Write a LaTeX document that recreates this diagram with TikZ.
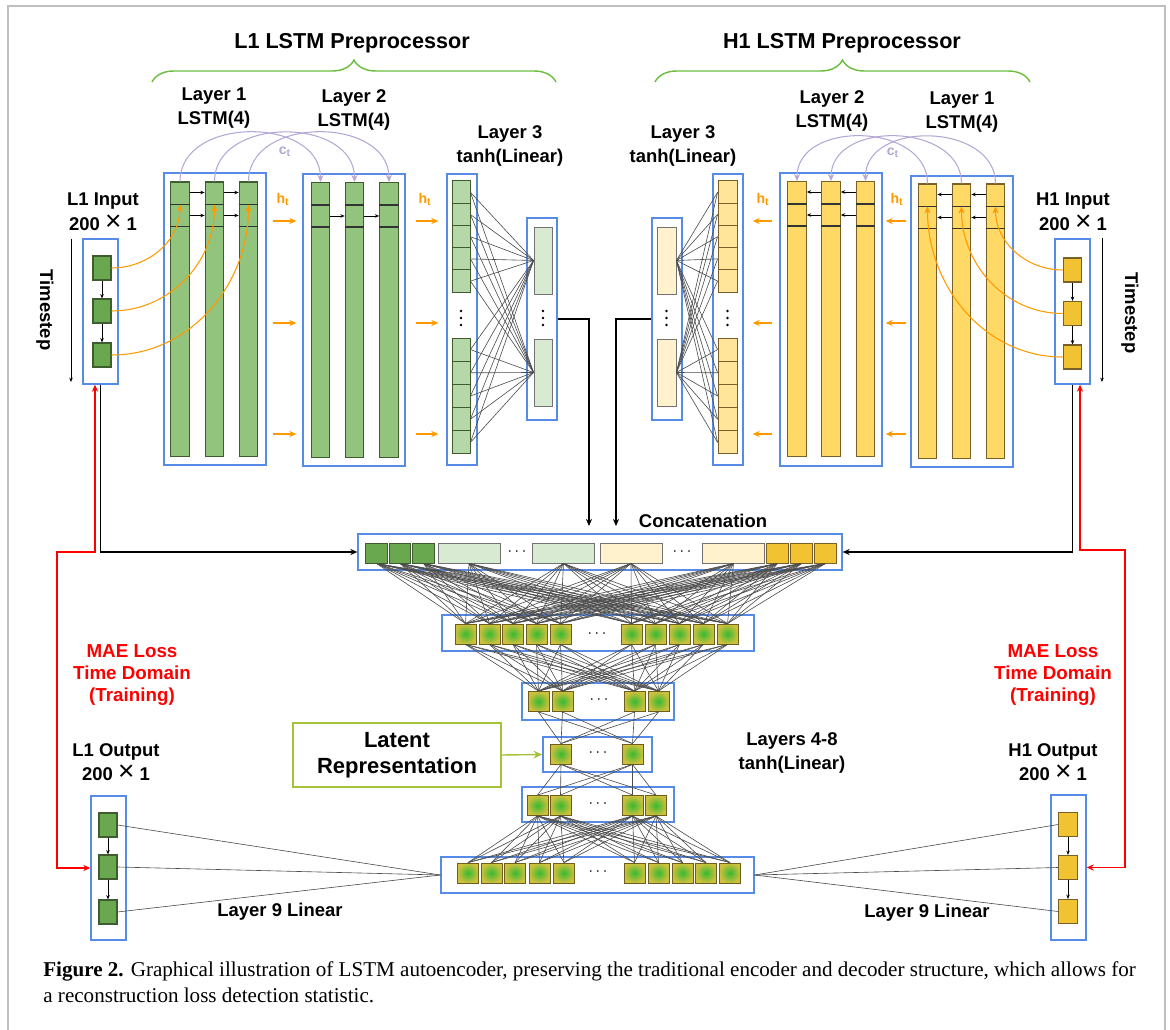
\documentclass[tikz,border=0pt]{standalone}
\usepackage{fontspec}
\setmainfont{Liberation Serif}
\setsansfont{Liberation Sans}
\usetikzlibrary{arrows.meta,decorations.pathreplacing}

\definecolor{boxblue}{RGB}{86,140,232}
\definecolor{gline}{RGB}{62,92,46}
\definecolor{gbar}{RGB}{147,196,125}
\definecolor{gdark}{RGB}{106,168,79}
\definecolor{gcell}{RGB}{182,215,168}
\definecolor{gpale}{RGB}{217,234,211}
\definecolor{yline}{RGB}{120,96,40}
\definecolor{ybar}{RGB}{255,217,102}
\definecolor{ydark}{RGB}{241,194,50}
\definecolor{ycell}{RGB}{255,229,153}
\definecolor{ypale}{RGB}{255,242,204}
\definecolor{htorange}{RGB}{255,153,0}
\definecolor{ctpurple}{RGB}{180,167,214}
\definecolor{bracegreen}{RGB}{106,190,60}
\definecolor{latentgreen}{RGB}{164,194,58}
\definecolor{nin}{RGB}{55,185,50}
\definecolor{nout}{RGB}{205,192,60}
\definecolor{nline}{RGB}{110,95,30}

\begin{document}
\begin{tikzpicture}[x=0.02cm, y=-0.02cm]
  \tikzstyle{bluebox}=[draw=boxblue, line width=0.8pt, inner sep=0pt]
  \tikzstyle{barG}=[draw=gline, fill=gbar, line width=0.6pt, minimum width=0.37cm, minimum height=5.5cm, inner sep=0pt]
  \tikzstyle{barY}=[draw=yline, fill=ybar, line width=0.6pt, minimum width=0.37cm, minimum height=5.5cm, inner sep=0pt]
  \tikzstyle{sqG}=[draw=gline, fill=gdark, line width=0.6pt, minimum width=0.36cm, minimum height=0.48cm, inner sep=0pt]
  \tikzstyle{sqY}=[draw=yline, fill=ydark, line width=0.6pt, minimum width=0.37cm, minimum height=0.48cm, inner sep=0pt]
  \tikzstyle{cellG}=[draw=gline, fill=gcell, line width=0.5pt, minimum width=0.36cm, minimum height=0.46cm, inner sep=0pt]
  \tikzstyle{cellY}=[draw=yline, fill=ycell, line width=0.5pt, minimum width=0.38cm, minimum height=0.46cm, inner sep=0pt]
  \tikzstyle{linG}=[draw=black!55, fill=gpale, line width=0.5pt, minimum width=0.36cm, minimum height=1.34cm, inner sep=0pt]
  \tikzstyle{linY}=[draw=black!55, fill=ypale, line width=0.5pt, minimum width=0.38cm, minimum height=1.34cm, inner sep=0pt]
  \tikzstyle{catsqG}=[draw=gline, fill=gdark, line width=0.5pt, minimum width=0.43cm, minimum height=0.40cm, inner sep=0pt]
  \tikzstyle{catsqY}=[draw=yline, fill=ydark, line width=0.5pt, minimum width=0.43cm, minimum height=0.40cm, inner sep=0pt]
  \tikzstyle{catwideG}=[draw=black!55, fill=gpale, line width=0.5pt, minimum width=1.24cm, minimum height=0.40cm, inner sep=0pt]
  \tikzstyle{catwideY}=[draw=black!55, fill=ypale, line width=0.5pt, minimum width=1.24cm, minimum height=0.40cm, inner sep=0pt]
  \tikzstyle{neuron}=[draw=nline, line width=0.5pt, shading=radial, inner color=nin, outer color=nout, minimum width=0.42cm, minimum height=0.40cm, inner sep=0pt]
  \tikzstyle{wire}=[draw=black!70, line width=0.35pt]
  \tikzstyle{ht}=[draw=htorange, line width=0.8pt, -{Stealth[length=4pt,width=3.5pt]}]
  \tikzstyle{feed}=[draw=htorange, line width=0.6pt, -{Stealth[length=4pt,width=3.5pt]}]
  \tikzstyle{ctarc}=[draw=ctpurple, line width=0.6pt, -{Stealth[length=4pt,width=3.5pt]}]
  \tikzstyle{smallarrow}=[draw=black, line width=0.45pt, -{Stealth[length=2.5pt,width=2pt]}]
  \tikzstyle{feedline}=[draw=black, line width=0.7pt, -{Stealth[length=4pt,width=3.5pt]}]
  \tikzstyle{loss}=[draw=red, line width=0.7pt, {Stealth[length=4pt,width=3.5pt]}-{Stealth[length=4pt,width=3.5pt]}]
  \tikzstyle{layerlab}=[font=\sffamily\bfseries\fontsize{10.5}{14}\selectfont, align=center, inner sep=0pt]
  \tikzstyle{titlelab}=[font=\sffamily\bfseries\fontsize{12.3}{15}\selectfont, inner sep=0pt]
  \tikzstyle{losslab}=[font=\sffamily\bfseries\fontsize{10.7}{12.6}\selectfont, align=center, text=red, inner sep=0pt]
  \tikzstyle{sublab}=[font=\sffamily\bfseries\fontsize{8}{9}\selectfont, inner sep=0pt]
  \tikzstyle{dotlab}=[inner sep=0pt, font=\fontsize{9}{9}\selectfont]
  \tikzstyle{brace}=[draw=bracegreen, line width=0.8pt, decorate, decoration={brace, amplitude=0.44cm}]
  \newcommand{\bigx}{{\mdseries\fontsize{16}{14}\selectfont ×}}

  \useasboundingbox (0,0) rectangle (1170,1030);
  \draw[black!25, line width=1.2pt] (8,6) rectangle (1165,1045);

  % titles
  \node[titlelab] (titleL) at (352,43) {L1 LSTM Preprocessor};
  \node[titlelab] (titleR) at (842,43) {H1 LSTM Preprocessor};
  \draw[brace] (152,82) -- (556,82);
  \draw[brace] (655,82) -- (1030,82);

  % layer names
  \node[layerlab] (nameLa) at (214,108) {Layer 1\\LSTM(4)};
  \node[layerlab] (nameLb) at (354,110) {Layer 2\\LSTM(4)};
  \node[layerlab] (nameLc) at (510,146) {Layer 3\\tanh(Linear)};
  \node[layerlab] (nameRc) at (683,146) {Layer 3\\tanh(Linear)};
  \node[layerlab] (nameRb) at (832,111) {Layer 2\\LSTM(4)};
  \node[layerlab] (nameRa) at (962,112) {Layer 1\\LSTM(4)};
  \node[layerlab] (nameInL) at (103,212) {L1 Input\\200 \bigx{} 1};
  \node[layerlab] (nameInR) at (1073,212) {H1 Input\\200 \bigx{} 1};
  \node[layerlab, rotate=-90] (timeL) at (45,310) {Timestep};
  \node[layerlab, rotate=-90] (timeR) at (1130,313) {Timestep};
  \coordinate (tsL1) at (71,239);
  \coordinate (tsL2) at (71,382);
  \coordinate (tsR1) at (1102,238);
  \coordinate (tsR2) at (1102,382);
  \draw[smallarrow] (tsL1) -- (tsL2);
  \draw[smallarrow] (tsR1) -- (tsR2);

  % input boxes
  \node[bluebox, minimum width=0.70cm, minimum height=2.90cm] (inL) at (100.5,311.5) {};
  \node[bluebox, minimum width=0.70cm, minimum height=2.90cm] (inR) at (1072.5,311.5) {};
  \foreach \y [count=\i] in {268,311,355}
    \node[sqG] (inL\i) at (102,\y) {};
  \foreach \y [count=\i] in {270,313.5,357}
    \node[sqY] (inR\i) at (1072.5,\y) {};
  \draw[smallarrow] (inL1) -- (inL2);
  \draw[smallarrow] (inL2) -- (inL3);
  \draw[smallarrow] (inR1) -- (inR2);
  \draw[smallarrow] (inR2) -- (inR3);

  % lstm layers
  \node[bluebox, minimum width=2.04cm, minimum height=5.84cm] (lstmLa) at (215,319) {};
  \node[bluebox, minimum width=2.04cm, minimum height=5.84cm] (lstmLb) at (354,320) {};
  \node[bluebox, minimum width=2.04cm, minimum height=5.86cm] (lstmRb) at (831,319.5) {};
  \node[bluebox, minimum width=2.04cm, minimum height=5.82cm] (lstmRa) at (962,321.5) {};
  \foreach \x [count=\i] in {180,214.5,248.5}
    \node[barG] (barLa\i) at (\x,319.5) {};
  \foreach \x [count=\i] in {320.5,354.5,389}
    \node[barG] (barLb\i) at (\x,320) {};
  \foreach \x [count=\i] in {797,831,865.5}
    \node[barY] (barRb\i) at (\x,319) {};
  \foreach \x [count=\i] in {927.5,961.5,995.5}
    \node[barY] (barRa\i) at (\x,321.5) {};
  \foreach \b in {barLa1,barLa2,barLa3,barLb1,barLb2,barLb3,barRb1,barRb2,barRb3,barRa1,barRa2,barRa3} {
    \draw[black!80, line width=0.6pt] ([yshift=-0.46cm]\b.north west) -- ([yshift=-0.46cm]\b.north east);
    \draw[black!80, line width=0.6pt] ([yshift=-0.9cm]\b.north west) -- ([yshift=-0.9cm]\b.north east);
  }
  \foreach \a/\b in {1/2,2/3} {
    \draw[smallarrow] ([yshift=-0.22cm]barLa\a.north east) -- ([yshift=-0.22cm]barLa\b.north west);
    \draw[smallarrow] ([yshift=-0.68cm]barLa\a.north east) -- ([yshift=-0.68cm]barLa\b.north west);
    \draw[smallarrow] ([yshift=-0.68cm]barLb\a.north east) -- ([yshift=-0.68cm]barLb\b.north west);
    \draw[smallarrow] ([yshift=-0.22cm]barRb\b.north west) -- ([yshift=-0.22cm]barRb\a.north east);
    \draw[smallarrow] ([yshift=-0.68cm]barRb\b.north west) -- ([yshift=-0.68cm]barRb\a.north east);
    \draw[smallarrow] ([yshift=-0.22cm]barRa\b.north west) -- ([yshift=-0.22cm]barRa\a.north east);
    \draw[smallarrow] ([yshift=-0.68cm]barRa\b.north west) -- ([yshift=-0.68cm]barRa\a.north east);
  }

  % cell state
  \foreach \i in {1,2,3} {
    \draw[ctarc] (barLa\i.north) to[out=90, in=90, looseness=1.2] (barLb\i.north);
    \draw[ctarc] (barRa\i.north) to[out=90, in=90, looseness=1.2] (barRb\i.north);
  }
  \node[sublab, text=ctpurple] (ctL) at (285,152) {c\textsubscript{t}};
  \node[sublab, text=ctpurple] (ctR) at (893,153) {c\textsubscript{t}};

  % inputs into the first lstm layer
  \draw[feed] (inL1.east) to[out=0, in=-90] ([yshift=-0.46cm]barLa1.north);
  \draw[feed] (inL2.east) to[out=0, in=-90] ([yshift=-0.46cm]barLa2.north);
  \draw[feed] (inL3.east) to[out=0, in=-90] ([yshift=-0.46cm]barLa3.north);
  \draw[feed] (inR1.west) to[out=180, in=-90] ([yshift=-0.46cm]barRa3.north);
  \draw[feed] (inR2.west) to[out=180, in=-90] ([yshift=-0.46cm]barRa2.north);
  \draw[feed] (inR3.west) to[out=180, in=-90] ([yshift=-0.46cm]barRa1.north);

  % layer 3
  \node[bluebox, minimum width=0.60cm, minimum height=5.82cm] (l3L) at (462,319.5) {};
  \node[bluebox, minimum width=0.60cm, minimum height=5.82cm] (l3R) at (728,319.5) {};
  \node[bluebox, minimum width=0.60cm, minimum height=4.04cm] (boxlinL) at (542,319) {};
  \node[bluebox, minimum width=0.60cm, minimum height=4.04cm] (boxlinR) at (667,319) {};
  \foreach \y [count=\i] in {192.3,214.5,236.7,258.9,281.1,349.6,372.8,396,419.2,442.4} {
    \node[cellG] (cellL\i) at (461,\y) {};
    \node[cellY] (cellR\i) at (727.5,\y) {};
  }
  \node[linG] (linL1) at (543,260.5) {};
  \node[linG] (linL2) at (543,372.5) {};
  \node[linY] (linR1) at (666.5,260.5) {};
  \node[linY] (linR2) at (666.5,372.5) {};
  \foreach \x in {461,543,666.5,727.5}
    \foreach \y in {311,318,325}
      \fill (\x,\y) circle (0.026cm);
  \foreach \i in {1,...,10}
    \foreach \j in {1,2} {
      \path[wire] (cellL\i.east) edge (linL\j.west);
      \path[wire] (cellR\i.west) edge (linR\j.east);
    }

  % hidden state
  \foreach \y in {221,323,434} {
    \draw[ht, shorten <=0.12cm, shorten >=0.12cm] (lstmLa.east |- 0,\y) -- (lstmLb.west |- 0,\y);
    \draw[ht, shorten <=0.2cm, shorten >=0.16cm] (lstmLb.east |- 0,\y) -- (l3L.west |- 0,\y);
    \draw[ht, shorten <=0.08cm, shorten >=0.06cm] (lstmRa.west |- 0,\y) -- (lstmRb.east |- 0,\y);
    \draw[ht, shorten <=0.14cm, shorten >=0.18cm] (lstmRb.west |- 0,\y) -- (l3R.east |- 0,\y);
  }
  \foreach \x in {283,425,763,897}
    \node[sublab, text=htorange] (htlab) at (\x,199) {h\textsubscript{t}};

  % concatenation
  \node[layerlab] (catlab) at (703,521) {Concatenation};
  \node[bluebox, minimum width=9.68cm, minimum height=0.72cm] (catbox) at (600,552) {};
  \node[catsqG] (cat1) at (376.5,553) {};
  \node[catsqG] (cat2) at (400,553) {};
  \node[catsqG] (cat3) at (423.5,553) {};
  \node[catwideG] (cat4) at (469,553) {};
  \node[catwideG] (cat5) at (563.5,553) {};
  \node[catwideY] (cat6) at (631,553) {};
  \node[catwideY] (cat7) at (733.5,553) {};
  \node[catsqY] (cat8) at (777.5,553) {};
  \node[catsqY] (cat9) at (801.5,553) {};
  \node[catsqY] (cat10) at (825.5,553) {};
  \node[dotlab] (catdots1) at (517,552) {$\cdots$};
  \node[dotlab] (catdots2) at (682,552) {$\cdots$};
  \coordinate (catinL) at (589,526);
  \coordinate (catinR) at (616,526);
  \draw[feedline] (boxlinL.east) -| (catinL);
  \draw[feedline] (boxlinR.west) -| (catinR);
  \draw[feedline] (inL.south) |- (catbox.west);
  \draw[feedline] (inR.south) |- (catbox.east);

  % layers 4-8
  \node[bluebox, minimum width=6.24cm, minimum height=0.72cm] (boxA) at (598,633) {};
  \node[bluebox, minimum width=3.04cm, minimum height=0.74cm] (boxB) at (598,701.5) {};
  \node[bluebox, minimum width=2.18cm, minimum height=0.70cm] (boxC) at (597.5,754.5) {};
  \node[bluebox, minimum width=3.04cm, minimum height=0.70cm] (boxD) at (598,804.5) {};
  \node[bluebox, minimum width=6.26cm, minimum height=0.72cm] (boxE) at (597.5,875) {};
  \foreach \x [count=\i] in {465.5,489.5,513,536.5,560.5,631.5,655.5,679.5,703.5,727.5}
    \node[neuron] (nA\i) at (\x,634) {};
  \foreach \x [count=\i] in {538.5,562.5,634.5,658.5}
    \node[neuron] (nB\i) at (\x,701.5) {};
  \foreach \x [count=\i] in {561,632.5}
    \node[neuron] (nC\i) at (\x,754) {};
  \foreach \x [count=\i] in {537.5,560.5,632.5,656}
    \node[neuron] (nD\i) at (\x,805.5) {};
  \foreach \x [count=\i] in {468,491.5,515,539.5,564,634.5,658.5,682.5,706,730}
    \node[neuron] (nE\i) at (\x,873) {};
  \node[dotlab] (dA) at (597,634) {$\cdots$};
  \node[dotlab] (dB) at (599,700) {$\cdots$};
  \node[dotlab] (dC) at (598,753) {$\cdots$};
  \node[dotlab] (dD) at (598,804) {$\cdots$};
  \node[dotlab] (dE) at (598,872) {$\cdots$};

  \foreach \i in {1,...,10}
    \foreach \j in {1,...,10}
      \path[wire] (cat\i.south) edge (nA\j.north);
  \foreach \i in {1,...,10}
    \foreach \j in {1,...,4} {
      \path[wire] (nA\i.south) edge (nB\j.north);
      \path[wire] (nD\j.south) edge (nE\i.north);
    }
  \foreach \i in {1,...,4}
    \foreach \j in {1,2} {
      \path[wire] (nB\i.south) edge (nC\j.north);
      \path[wire] (nC\j.south) edge (nD\i.north);
    }

  \node[layerlab] (deeplab) at (792,753) {Layers 4-8\\tanh(Linear)};
  \node[draw=latentgreen, line width=0.8pt, minimum width=4.16cm, minimum height=1.28cm,
        font=\sffamily\bfseries\fontsize{12.5}{14.8}\selectfont, align=center] (latent) at (397,755) {Latent\\Representation};
  \draw[latentgreen, line width=0.8pt, -{Stealth[length=5pt,width=4.5pt]}] (latent.east) -- (boxC.west);

  % outputs
  \node[layerlab] (nameOutL) at (116,762) {L1 Output\\200 \bigx{} 1};
  \node[layerlab] (nameOutR) at (1053,762) {H1 Output\\200 \bigx{} 1};
  \node[bluebox, minimum width=0.70cm, minimum height=2.88cm] (outL) at (108.5,868) {};
  \node[bluebox, minimum width=0.70cm, minimum height=2.90cm] (outR) at (1068.5,867.5) {};
  \foreach \y [count=\i] in {825,867,912}
    \node[sqG] (outL\i) at (108,\y) {};
  \foreach \y [count=\i] in {824.5,867.5,911.5}
    \node[sqY] (outR\i) at (1068,\y) {};
  \draw[smallarrow] (outL1) -- (outL2);
  \draw[smallarrow] (outL2) -- (outL3);
  \draw[smallarrow] (outR1) -- (outR2);
  \draw[smallarrow] (outR2) -- (outR3);
  \foreach \i in {1,2,3} {
    \path[wire] (boxE.west) edge (outL\i.east);
    \path[wire] (boxE.east) edge (outR\i.west);
  }
  \node[layerlab] (lin9L) at (280,912) {Layer 9 Linear};
  \node[layerlab] (lin9R) at (927,913) {Layer 9 Linear};

  % reconstruction loss
  \node[losslab] (lossLabL) at (132,675) {MAE Loss\\Time Domain\\(Training)};
  \node[losslab] (lossLabR) at (1053,675) {MAE Loss\\Time Domain\\(Training)};
  \coordinate (lossL) at (57,552);
  \coordinate (lossR) at (1125,550);
  \draw[loss] ([xshift=-0.11cm]inL.south) |- (lossL) |- (outL.west);
  \draw[loss] ([xshift=0.15cm]inR.south) |- (lossR) |- (outR.east);

  % caption
  \node[anchor=north west, align=left, inner sep=0pt, font=\fontsize{12}{14.8}\selectfont] (caption) at (43,961)
    {\textbf{Figure 2.} Graphical illustration of LSTM autoencoder, preserving the traditional encoder and decoder structure, which allows for\\
     a reconstruction loss detection statistic.};
\end{tikzpicture}
\end{document}
